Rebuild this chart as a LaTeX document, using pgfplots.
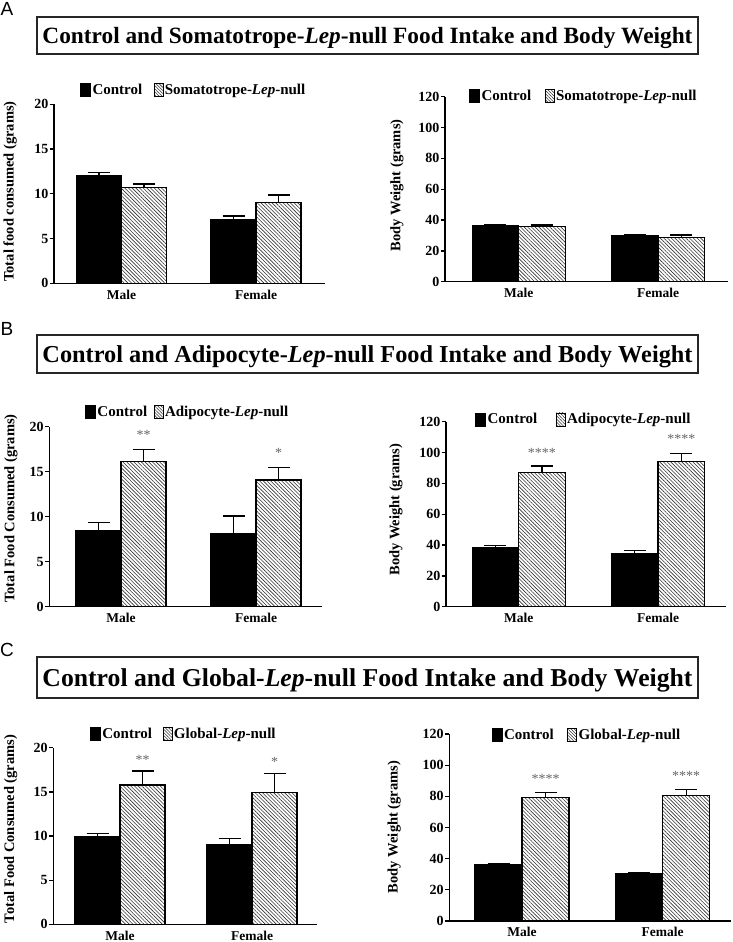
\documentclass[border=0pt]{standalone}
\usepackage{fontspec}
\setmainfont{Liberation Serif}
\newfontfamily\lettersf{Liberation Sans}
\usepackage{graphicx}
\usepackage{pgfplots}
\pgfplotsset{compat=1.18}
\usetikzlibrary{patterns.meta}

\pgfplotsset{
  barchart/.style={
    scale only axis, clip=false,
    axis x line*=bottom, axis y line*=left,
    axis line style={-, line width=1.3pt, black},
    xmin=0, ymin=0,
    tick align=outside, major tick length=4pt,
    xtick style={draw=none},
    ytick style={line width=1.3pt, black},
    /pgf/number format/assume math mode=true,
    yticklabel={\bfseries\pgfmathprintnumber{\tick}},
    yticklabel style={font=\fontsize{14}{14}\selectfont\bfseries, inner sep=1.5pt},
    xticklabel style={font=\fontsize{13.5}{13.5}\selectfont\bfseries, yshift=1pt},
    xticklabels={Male,Female},
    ylabel style={font=\fontsize{14.5}{14.5}\selectfont\bfseries, anchor=center},
    legend style={draw=none, fill=none, legend columns=2, anchor=west,
      font=\fontsize{15}{15}\selectfont\bfseries, inner sep=0pt,
      nodes={inner sep=1.5pt}},
  },
  ctrl/.style={ybar, bar width=#1, bar shift=0pt, fill=black, draw=black, line width=1.2pt, forget plot,
    error bars/.cd, y dir=plus, y explicit, error mark=|,
    error bar style={line width=1.3pt, black},
    error mark options={mark size=11pt, line width=1.3pt, black}},
  lep/.style={ybar, bar width=#1, bar shift=0pt, fill=white, draw=black, line width=1.2pt, forget plot,
    postaction={pattern={Lines[angle=-45,distance=2.6pt,line width=0.6pt]}, pattern color=black!80},
    error bars/.cd, y dir=plus, y explicit, error mark=|,
    error bar style={line width=1.3pt, black},
    error mark options={mark size=11pt, line width=1.3pt, black}},
  ctrlleg/.style={legend image code/.code={\draw[fill=black, draw=black, line width=0.8pt] (0pt,-6.5pt) rectangle (10pt,6.5pt);}},
  lepleg/.style={legend image code/.code={\draw[draw=black, line width=0.8pt, pattern={Lines[angle=-45,distance=2.2pt,line width=0.55pt]}, pattern color=black!80] (0pt,-6.5pt) rectangle (9pt,6.5pt);}},
}
\newcommand{\stars}[1]{\textcolor{black!60}{\fontsize{14}{14}\selectfont #1}}

\begin{document}
\begin{tikzpicture}
\path[use as bounding box] (0pt,0pt) rectangle (733pt,-942pt);

% Panel letters and titles
\node[font=\lettersf\fontsize{19}{19}\selectfont] at (7pt,-9pt) {A};
\node[font=\lettersf\fontsize{19}{19}\selectfont] at (7pt,-329pt) {B};
\node[font=\lettersf\fontsize{19}{19}\selectfont] at (7pt,-650pt) {C};

\draw[line width=1.3pt, black!85] (37pt,-17pt) rectangle (698pt,-54pt);
\node[anchor=base, inner sep=0pt] at (367.5pt,-43.5pt) {\resizebox{650pt}{!}{\bfseries Control and Somatotrope-\textit{Lep}-null Food Intake and Body Weight}};

\draw[line width=1.3pt, black!85] (37pt,-335pt) rectangle (698pt,-373pt);
\node[anchor=base, inner sep=0pt] at (367.5pt,-362pt) {\resizebox{650pt}{!}{\bfseries Control and Adipocyte-\textit{Lep}-null Food Intake and Body Weight}};

\draw[line width=1.3pt, black!85] (37pt,-657pt) rectangle (698pt,-698pt);
\node[anchor=base, inner sep=0pt] at (367.5pt,-686pt) {\resizebox{650pt}{!}{\bfseries Control and Global-\textit{Lep}-null Food Intake and Body Weight}};

% ---------- A left ----------
\begin{axis}[barchart, at={(54pt,-283.3pt)}, anchor=south west,
  width=271pt, height=179pt, xmax=271, ymax=20, ytick={0,5,10,15,20},
  xtick={67.5,202},
  ylabel={Total food consumed (grams)},
  ylabel style={at={(axis description cs:-0.162,0.513)}},
  legend style={at={(axis description cs:0.096,1.078)}, /tikz/every even column/.append style={column sep=10pt}}]
\addplot[ctrl=45pt] coordinates {(45,12.0) +- (0,0.36) (179.5,7.08) +- (0,0.44)};
\addplot[lep=45pt] coordinates {(90,10.69) +- (0,0.41) (224.5,9.05) +- (0,0.82)};
\addlegendimage{ctrlleg}\addlegendentry{Control}
\addlegendimage{lepleg}\addlegendentry{Somatotrope-\textit{Lep}-null}
\end{axis}

% ---------- A right ----------
\begin{axis}[barchart, at={(445pt,-281.7pt)}, anchor=south west,
  width=282.7pt, height=185pt, xmax=282.7, ymax=120, ytick={0,20,...,120},
  xtick={73.7,213},
  ylabel={Body Weight (grams)},
  ylabel style={at={(axis description cs:-0.170,0.52)}},
  legend style={at={(axis description cs:0.085,1.006)}, /tikz/every even column/.append style={column sep=12pt}}]
\addplot[ctrl=46.5pt] coordinates {(50.45,36.5) +- (0,0.7) (189.75,29.6) +- (0,0.7)};
\addplot[lep=46.5pt] coordinates {(96.95,35.7) +- (0,1.1) (236.25,28.8) +- (0,1.5)};
\addlegendimage{ctrlleg}\addlegendentry{Control}
\addlegendimage{lepleg}\addlegendentry{Somatotrope-\textit{Lep}-null}
\end{axis}

% ---------- B left ----------
\begin{axis}[barchart, at={(49.3pt,-606.7pt)}, anchor=south west,
  width=272.4pt, height=180pt, xmax=272.4, ymax=20, ytick={0,5,10,15,20},
  xtick={71.7,206.7},
  ylabel={Total Food Consumed (grams)},
  ylabel style={at={(axis description cs:-0.141,0.546)}},
  legend style={at={(axis description cs:0.131,1.082)}, /tikz/every even column/.append style={column sep=5pt}}]
\addplot[ctrl=45pt] coordinates {(49.2,8.44) +- (0,0.89) (184.2,8.07) +- (0,2.0)};
\addplot[lep=45pt] coordinates {(94.2,16.1) +- (0,1.4) (229.2,14.07) +- (0,1.43)};
\addlegendimage{ctrlleg}\addlegendentry{Control}
\addlegendimage{lepleg}\addlegendentry{Adipocyte-\textit{Lep}-null}
\node at (axis cs:94.2,19.1) {\stars{**}};
\node at (axis cs:229.2,17.1) {\stars{*}};
\end{axis}

% ---------- B right ----------
\begin{axis}[barchart, at={(446pt,-606.7pt)}, anchor=south west,
  width=280pt, height=185pt, xmax=280, ymax=120, ytick={0,20,...,120},
  xtick={72.7,212},
  ylabel={Body Weight (grams)},
  ylabel style={at={(axis description cs:-0.179,0.525)}},
  legend style={at={(axis description cs:0.104,1.012)}, /tikz/every even column/.append style={column sep=17pt}}]
\addplot[ctrl=46.5pt] coordinates {(49.45,38.5) +- (0,1.1) (188.75,34.2) +- (0,2.1)};
\addplot[lep=46.5pt] coordinates {(95.95,87.1) +- (0,4.1) (235.25,94.05) +- (0,5.4)};
\addlegendimage{ctrlleg}\addlegendentry{Control}
\addlegendimage{lepleg}\addlegendentry{Adipocyte-\textit{Lep}-null}
\node at (axis cs:95.95,100) {\stars{****}};
\node at (axis cs:235.25,108.6) {\stars{****}};
\end{axis}

% ---------- C left ----------
\begin{axis}[barchart, at={(53.3pt,-924.3pt)}, anchor=south west,
  width=263.4pt, height=176.6pt, xmax=263.4, ymax=20, ytick={0,5,10,15,20},
  xtick={66.7,198.7},
  ylabel={Total Food Consumed (grams)},
  ylabel style={at={(axis description cs:-0.162,0.54)}},
  legend style={at={(axis description cs:0.139,1.080)}, /tikz/every even column/.append style={column sep=9pt}}]
\addplot[ctrl=45pt] coordinates {(44.2,9.92) +- (0,0.38) (176.2,8.98) +- (0,0.76)};
\addplot[lep=45pt] coordinates {(89.2,15.77) +- (0,1.59) (221.2,14.94) +- (0,2.15)};
\addlegendimage{ctrlleg}\addlegendentry{Control}
\addlegendimage{lepleg}\addlegendentry{Global-\textit{Lep}-null}
\node at (axis cs:89.2,18.6) {\stars{**}};
\node at (axis cs:221.2,18.4) {\stars{*}};
\end{axis}

% ---------- C right ----------
\begin{axis}[barchart, at={(449.3pt,-921pt)}, anchor=south west,
  width=281.7pt, height=187pt, xmax=281.7, ymax=120, ytick={0,20,...,120},
  xtick={72.7,213.4},
  ylabel={Body Weight (grams)},
  ylabel style={at={(axis description cs:-0.196,0.503)}},
  legend style={at={(axis description cs:0.15,0.995)}, /tikz/every even column/.append style={column sep=12pt}}]
\addplot[ctrl=47pt] coordinates {(49.2,35.9) +- (0,0.9) (189.9,30.2) +- (0,1.0)};
\addplot[lep=47pt] coordinates {(96.2,79.1) +- (0,3.3) (236.9,80.4) +- (0,4.1)};
\addlegendimage{ctrlleg}\addlegendentry{Control}
\addlegendimage{lepleg}\addlegendentry{Global-\textit{Lep}-null}
\node at (axis cs:96.2,91) {\stars{****}};
\node at (axis cs:236.9,92.9) {\stars{****}};
\end{axis}
\end{tikzpicture}
\end{document}
